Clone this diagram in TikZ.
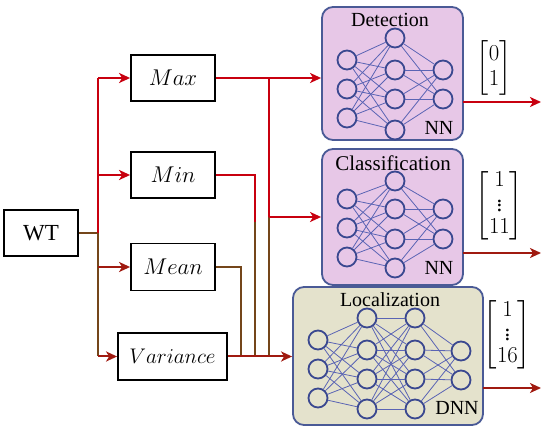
\documentclass[tikz,border=0pt]{standalone}
\usepackage{amsmath}
\usepackage{graphicx}
\usepackage{fontspec}
\setmainfont{Liberation Serif}
\usetikzlibrary{arrows.meta}
\definecolor{cred}{HTML}{C8000F}
\definecolor{cbrown}{HTML}{74461A}
\definecolor{cdark}{HTML}{A01A10}
\definecolor{detfill}{HTML}{E7C7E7}
\definecolor{locfill}{HTML}{E4E2CC}
\definecolor{nnborder}{HTML}{4A5A96}
\definecolor{nncircle}{HTML}{3A4890}
\definecolor{nnline}{HTML}{5A64B4}
\begin{document}
\begin{tikzpicture}[x=1pt,y=-1pt,
  lbl/.style={draw=black, line width=1.8pt, minimum width=84pt, minimum height=46pt, inner sep=0pt, font=\fontsize{20.74}{25}\selectfont},
  nnbox/.style={draw=nnborder, line width=1.8pt, rounded corners=11pt, inner sep=0pt},
  neu/.style={circle, draw=nncircle, line width=1.8pt, minimum size=19pt, inner sep=0pt},
  syn/.style={draw=nnline, line width=0.8pt},
  redl/.style={draw=cred, line width=2pt},
  brl/.style={draw=cbrown, line width=2pt},
  drl/.style={draw=cdark, line width=2pt},
  arr/.style={-{Stealth[length=11pt,width=10pt,inset=3pt]}},
  ttl/.style={font=\fontsize{20}{24}\selectfont, inner sep=0pt},
  vec/.style={font=\fontsize{20.74}{22.5}\selectfont, inner sep=0pt},
]
\useasboundingbox (0,0) rectangle (550,433);

% input / feature boxes
\node[lbl, minimum width=74pt, font=\fontsize{23}{27}\selectfont] (wt) at (41,233) {WT};
\node[lbl] (max) at (173,78) {\scalebox{1.1}{$Max$}};
\node[lbl] (min) at (173,175) {\scalebox{1.1}{$Min$}};
\node[lbl, minimum height=47pt] (mean) at (173,267) {\scalebox{1.1}{$Mean$}};
\node[lbl, minimum width=109pt, minimum height=47pt] (var) at (172.5,356.5) {\scalebox{1.02}{$Variance$}};

% network boxes
\node[nnbox, fill=detfill, minimum width=141pt, minimum height=133pt] (det) at (392.5,73.5) {};
\node[nnbox, fill=detfill, minimum width=141pt, minimum height=136pt] (cls) at (392.5,217) {};
\node[nnbox, fill=locfill, minimum width=190pt, minimum height=138pt] (loc) at (388,356) {};

% titles
\node[ttl] (dett) at (390,20) {Detection};
\node[ttl, font=\fontsize{21}{24}\selectfont] (clst) at (393,163) {Classification};
\node[ttl] (loct) at (390,300) {Localization};
\node[ttl] (detn) at (439,128) {NN};
\node[ttl] (clsn) at (439,268) {NN};
\node[ttl] (locn) at (457,408) {DNN};

% Detection network
\foreach \i/\y in {1/60,2/89,3/118} \node[neu, fill=detfill] (da\i) at (347,\y) {};
\foreach \i/\y in {1/38,2/70,3/99,4/130} \node[neu, fill=detfill] (db\i) at (395,\y) {};
\foreach \i/\y in {1/70,2/99} \node[neu, fill=detfill] (dc\i) at (443,\y) {};
\foreach \i in {1,2,3} \foreach \j in {1,2,3,4} \draw[syn] (da\i) -- (db\j);
\foreach \i in {1,2,3,4} \foreach \j in {1,2} \draw[syn] (db\i) -- (dc\j);

% Classification network
\foreach \i/\y in {1/199,2/228,3/257} \node[neu, fill=detfill] (ca\i) at (347,\y) {};
\foreach \i/\y in {1/181,2/209,3/239,4/268} \node[neu, fill=detfill] (cb\i) at (395,\y) {};
\foreach \i/\y in {1/209,2/239} \node[neu, fill=detfill] (cc\i) at (443,\y) {};
\foreach \i in {1,2,3} \foreach \j in {1,2,3,4} \draw[syn] (ca\i) -- (cb\j);
\foreach \i in {1,2,3,4} \foreach \j in {1,2} \draw[syn] (cb\i) -- (cc\j);

% Localization network
\foreach \i/\y in {1/340,2/369,3/398} \node[neu, fill=locfill] (la\i) at (318,\y) {};
\foreach \i/\y in {1/318,2/350,3/379,4/409} \node[neu, fill=locfill] (lb\i) at (367,\y) {};
\foreach \i/\y in {1/318,2/350,3/379,4/409} \node[neu, fill=locfill] (lc\i) at (415,\y) {};
\foreach \i/\y in {1/351,2/380} \node[neu, fill=locfill] (ld\i) at (461,\y) {};
\foreach \i in {1,2,3} \foreach \j in {1,2,3,4} \draw[syn] (la\i) -- (lb\j);
\foreach \i in {1,2,3,4} \foreach \j in {1,2,3,4} \draw[syn] (lb\i) -- (lc\j);
\foreach \i in {1,2,3,4} \foreach \j in {1,2} \draw[syn] (lc\i) -- (ld\j);

% output vectors
\node[vec] (vdet) at (494,68) {\scalebox{1.1}{$\setlength\arraycolsep{1pt}\begin{bmatrix}0\\1\end{bmatrix}$}};
\node[vec] (vcls) at (499.5,205.5) {\scalebox{1.1}{$\setlength\arraycolsep{1pt}\renewcommand\arraystretch{0.9}\begin{bmatrix}1\\ \vdots\\ 11\end{bmatrix}$}};
\node[vec] (vloc) at (507.5,335) {\scalebox{1.1}{$\setlength\arraycolsep{1pt}\renewcommand\arraystretch{0.9}\begin{bmatrix}1\\ \vdots\\ 16\end{bmatrix}$}};

% junction coordinates
\coordinate (tTop) at (98,78);
\coordinate (tMin) at (98,175);
\coordinate (tWT) at (98,233);
\coordinate (tMean) at (98,267);
\coordinate (tVar) at (98,356.5);
\coordinate (jMax) at (269,78);
\coordinate (jCls) at (269,217);
\coordinate (jMaxB) at (269,356.5);
\coordinate (jMin) at (255,175);
\coordinate (jMinM) at (255,222);
\coordinate (jMinB) at (255,356.5);
\coordinate (jMean) at (241,267);
\coordinate (jMeanB) at (241,356.5);
\coordinate (oDet) at (463,102);
\coordinate (oDetE) at (541,102);
\coordinate (oCls) at (463,253);
\coordinate (oClsE) at (541,253);
\coordinate (oLoc) at (483,388);
\coordinate (oLocE) at (541,388);

% left tree
\draw[brl] (wt.east) -- (tWT);
\draw[redl] (tTop) -- (tWT);
\draw[brl] (tWT) -- (tVar);
\draw[redl, arr] (tTop) -- (max.west);
\draw[redl, arr] (tMin) -- (min.west);
\draw[drl, arr] (tMean) -- (mean.west);
\draw[drl, arr] (tVar) -- (var.west);

% right connections
\draw[brl] (jMinM) -- (jMinB);
\draw[brl] (jCls) -- (jMaxB);
\draw[brl] (mean.east) -- (jMean) -- (jMeanB);
\draw[redl] (min.east) -- (jMin) -- (jMinM);
\draw[redl, arr] (max.east) -- (max.east -| det.west);
\draw[redl] (jMax) -- (jCls);
\draw[redl, arr] (jCls) -- (jCls -| cls.west);
\draw[drl, arr] (var.east) -- (var.east -| loc.west);

% outputs
\draw[redl, arr] (oDet) -- (oDetE);
\draw[drl, arr] (oCls) -- (oClsE);
\draw[drl, arr] (oLoc) -- (oLocE);
\end{tikzpicture}
\end{document}
